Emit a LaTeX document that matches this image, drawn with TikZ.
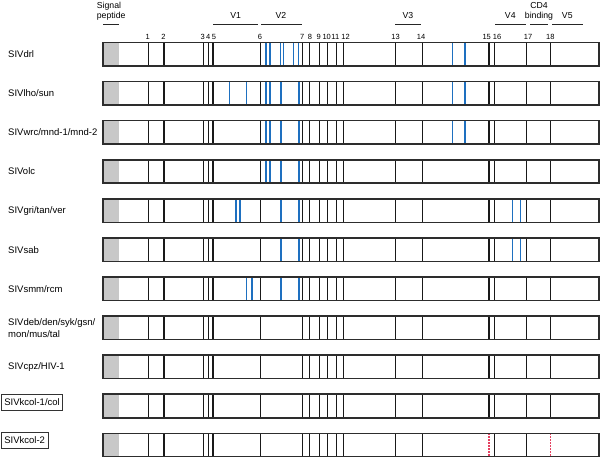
\documentclass[tikz,border=0pt]{standalone}
\usepackage{fontspec}
\setmainfont{Liberation Sans}
\definecolor{bluec}{RGB}{30,112,192}
\definecolor{redc}{RGB}{228,64,96}
\definecolor{framec}{RGB}{45,45,45}
\definecolor{greyc}{RGB}{200,200,200}
\begin{document}
\begin{tikzpicture}[x=1pt,y=-1pt,
  barframe/.style={draw=framec,line width=1.6pt},
  seg/.style={draw=black!90,line width=1.5pt},
  blueseg/.style={draw=bluec,line width=1.35pt},
  redseg/.style={draw=redc,line width=1.5pt,dash pattern=on 1.5pt off 1.5pt},
  hdrline/.style={draw=black!85,line width=0.9pt},
  lab/.style={font=\fontsize{9.5}{12}\selectfont,anchor=west,inner sep=0pt},
  boxlab/.style={font=\fontsize{9.5}{12}\selectfont,anchor=west,draw=black!80,line width=0.7pt,inner xsep=3pt,inner ysep=0pt,minimum height=16pt},
  num/.style={font=\fontsize{7.5}{8}\selectfont,inner sep=0pt,anchor=base},
  hdr/.style={font=\fontsize{8.7}{10}\selectfont,inner sep=0pt,anchor=base}]
\useasboundingbox (0,0) rectangle (600,457);

% header
\node[hdr,anchor=base west] (sig1) at (96.7,8.5) {Signal};
\node[hdr,anchor=base west] (sig2) at (96.7,19) {peptide};
\draw[hdrline] (103,24.3) -- (119.3,24.3);
\node[hdr] (v1) at (235.7,19) {V1};
\draw[hdrline] (213.3,24.3) -- (258.3,24.3);
\node[hdr] (v2) at (281,19) {V2};
\draw[hdrline] (261,24.3) -- (302.3,24.3);
\node[hdr] (v3) at (408,19) {V3};
\draw[hdrline] (395.3,24.3) -- (420.7,24.3);
\node[hdr] (v4) at (510.3,19) {V4};
\draw[hdrline] (495,24.3) -- (526,24.3);
\node[hdr] (cd4a) at (539,8.3) {CD4};
\node[hdr] (cd4b) at (539,19) {binding};
\draw[hdrline] (530,24.3) -- (548.3,24.3);
\node[hdr] (v5) at (567.3,19) {V5};
\draw[hdrline] (552.3,24.3) -- (583.3,24.3);

% numbers
\foreach \n/\x in {1/147.6,2/163.5,3/202.7,4/208.2,5/214,6/260,7/302.3,8/310,9/318.7,10/326.7,11/335.3,12/345.5,13/395.5,14/421,15/486.7,16/497,17/528,18/550.3}
  \node[num] (n\n) at (\x,39.5) {\n};

% bars
\foreach \r in {0,...,10}{
  \pgfmathsetmacro\t{42.5+39.08*\r}
  \pgfmathsetmacro\b{\t+23.5}
  \fill[greyc] (103,\t) rectangle (119,\b);
  \foreach \x in {148.3,164,203.7,208.3,213,260.5,302.7,309.3,319.3,327.3,336.7,343.3,395.7,422.3,494.3,526.7}
    \draw[seg] (\x,\t) -- (\x,\b);
  \ifnum\r<10
    \draw[seg] (489,\t) -- (489,\b);
    \draw[seg] (550.3,\t) -- (550.3,\b);
  \else
    \draw[redseg] (489,\t) -- (489,\b);
    \draw[redseg] (550.3,\t) -- (550.3,\b);
  \fi
}
% blue lines
\foreach \r/\xs in {0/{266.1,269.9,280.3,283.7,293.3,298.3,452.3,465},
                    1/{229.3,246.7,266.1,269.9,281,299,452.3,465},
                    2/{266.1,269.9,281,299,452.3,465},
                    3/{266.1,269.9,281,299},
                    4/{236.1,239.9,281,299,512.7,520.3},
                    5/{281,299,512.7,520.3},
                    6/{246.7,252,281,299}}{
  \pgfmathsetmacro\t{42.5+39.08*\r}
  \pgfmathsetmacro\b{\t+23.5}
  \foreach \x in \xs
    \draw[blueseg] (\x,\t) -- (\x,\b);
}
% frames
\foreach \r in {0,...,10}{
  \pgfmathsetmacro\t{42.5+39.08*\r}
  \pgfmathsetmacro\b{\t+23.5}
  \draw[barframe] (103,\t) rectangle (598.8,\b);
}

% row labels
\node[lab] (l0) at (8,54.25) {SIVdrl};
\node[lab] (l1) at (8,93.33) {SIVlho/sun};
\node[lab] (l2) at (8,132.41) {SIVwrc/mnd-1/mnd-2};
\node[lab] (l3) at (8,171.49) {SIVolc};
\node[lab] (l4) at (8,210.57) {SIVgri/tan/ver};
\node[lab] (l5) at (8,249.65) {SIVsab};
\node[lab] (l6) at (8,288.73) {SIVsmm/rcm};
\node[lab,align=left] (l7) at (8,327.81) {SIVdeb/den/syk/gsn/\\mon/mus/tal};
\node[lab] (l8) at (8,366.89) {SIVcpz/HIV-1};
\node[boxlab] (l9) at (1,402) {SIVkcol-1/col};
\node[boxlab] (l10) at (1,440.5) {SIVkcol-2};
\end{tikzpicture}
\end{document}
